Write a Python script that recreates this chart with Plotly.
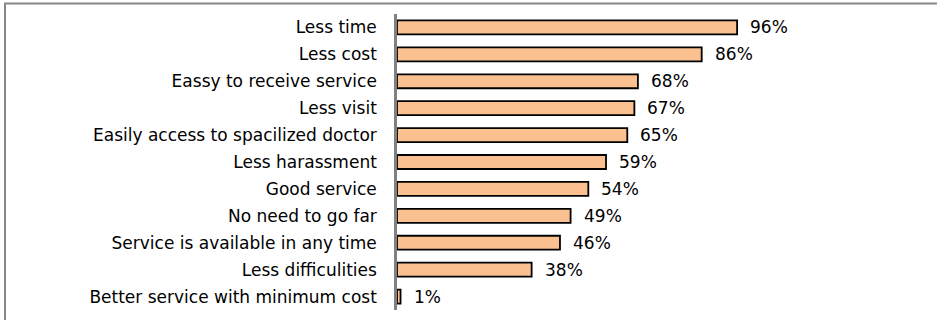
import plotly.graph_objects as go

categories = [
    "Less time",
    "Less cost",
    "Eassy to receive service",
    "Less visit",
    "Easily access to spacilized doctor",
    "Less harassment",
    "Good service",
    "No need to go far",
    "Service is available in any time",
    "Less difficulities",
    "Better service with minimum cost",
]
values = [96, 86, 68, 67, 65, 59, 54, 49, 46, 38, 1]
value_labels = [f"{v}%" for v in values]

FONT = "'DejaVu Sans', Verdana, sans-serif"
FSIZE = 17

fig = go.Figure()
fig.add_trace(go.Bar(
    y=categories,
    x=values,
    orientation="h",
    marker=dict(color="#FAC090", line=dict(color="#000000", width=1.8)),
    width=0.52,
    hoverinfo="skip",
))

for c, v, t in zip(categories, values, value_labels):
    fig.add_annotation(x=v, y=c, text=t, showarrow=False, xanchor="left",
                       xshift=11, font=dict(family=FONT, size=FSIZE, color="#000000"))

fig.update_layout(
    width=937, height=320,
    margin=dict(l=397, r=44, t=14, b=10),
    paper_bgcolor="white", plot_bgcolor="white",
    showlegend=False,
    font=dict(family=FONT, size=FSIZE, color="#000000"),
    xaxis=dict(range=[0, 140], visible=False, showgrid=False, zeroline=False),
    yaxis=dict(autorange="reversed", showgrid=False, zeroline=False,
               showline=True, linecolor="#808080", linewidth=2.5,
               ticks="", ticklabelstandoff=14, automargin=False,
               tickfont=dict(family=FONT, size=FSIZE, color="#000000")),
    shapes=[dict(type="rect", xref="paper", yref="paper",
                 x0=-392 / 496, x1=1.2, y0=-0.2, y1=1 + 10.5 / 296,
                 line=dict(color="#878787", width=2), fillcolor="rgba(0,0,0,0)",
                 layer="below")],
)

fig.write_html("out.html", config={"displayModeBar": False},
               post_script="document.body.style.margin='0';")
